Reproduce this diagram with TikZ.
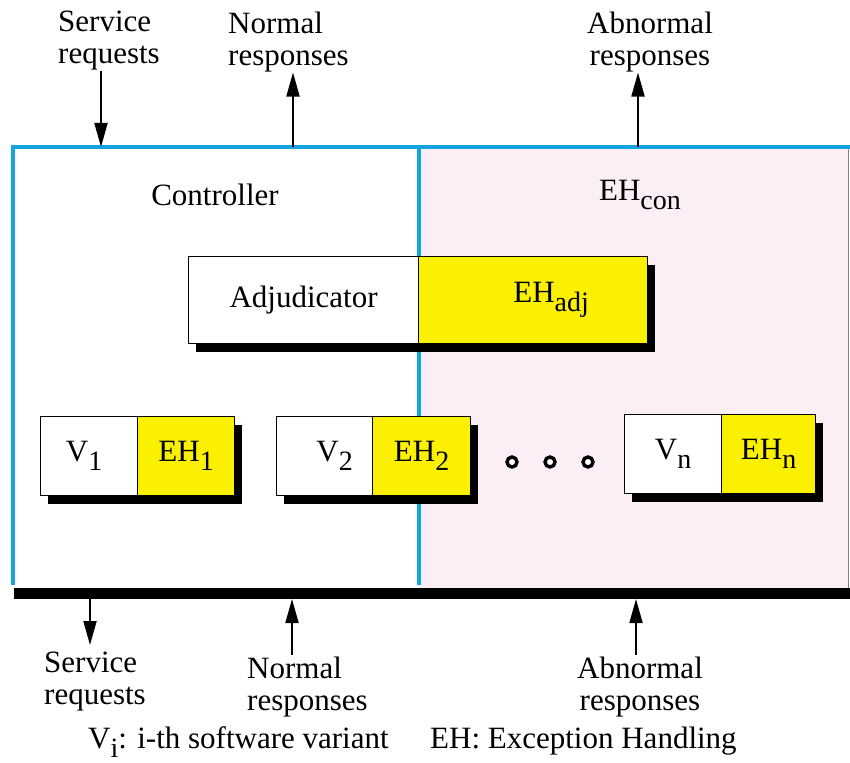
\documentclass[tikz,border=0pt]{standalone}
\usepackage{fontspec}
\setmainfont{Liberation Serif}
\usetikzlibrary{arrows.meta,shadows}
\definecolor{framecyan}{RGB}{20,165,225}
\definecolor{ehpink}{RGB}{252,238,245}
\definecolor{ehyellow}{RGB}{250,240,0}
% lowered index as printed in the figure (nearly full size)
\newcommand{\lowsub}[1]{\raisebox{-0.3em}{\fontsize{28}{28}\selectfont #1}}
\begin{document}
\begin{tikzpicture}[x=1pt,y=-1pt,
  txt/.style={font=\fontsize{31}{32}\selectfont, inner sep=0pt},
  flow/.style={line width=1.8pt, -{Triangle[length=24pt,width=13pt]}},
  cyanline/.style={draw=framecyan, line width=4pt},
  part/.style={draw=black, line width=1.2pt, inner sep=0pt, anchor=north west,
    font=\fontsize{31}{32}\selectfont,
    drop shadow={shadow xshift=7pt, shadow yshift=-8pt, fill=black, opacity=1}},
  vpart/.style={part, fill=white},
  hpart/.style={part, fill=ehyellow},
  ring/.style={draw=black, line width=3.4pt, fill=white, circle, inner sep=0pt, minimum size=10pt}]
\useasboundingbox (0,0) rectangle (850,762);

% frame: controller (white) and exception-handling part (pink)
\fill[ehpink] (419,147) rectangle (848,590);
\draw[gray, line width=1pt] (848,147) -- (848,590);
\fill[black] (14,588) rectangle (850,599);
\draw[cyanline] (11,147) -- (850,147);
\draw[cyanline] (13,147) -- (13,585);
\draw[cyanline] (419,147) -- (419,585);

\node[txt] (ctrl) at (215,195) {Controller};
\node[txt] (ehcon) at (640,195) {EH\lowsub{con}};

% adjudicator with its exception handler
\node[vpart, minimum width=230pt, minimum height=87pt] (adj) at (188,256) {Adjudicator};
\node[hpart, minimum width=229pt, minimum height=87pt] (ehadj) at (418,256) {\hspace*{36pt}EH\lowsub{adj}};

% software variants
\node[vpart, minimum width=97pt, minimum height=79pt] (v1) at (40,416) {V\lowsub{1}\hspace*{10pt}};
\node[hpart, minimum width=97pt, minimum height=79pt] (eh1) at (137,416) {EH\lowsub{1}};
\node[vpart, minimum width=96pt, minimum height=79pt] (v2) at (276,416) {\hspace*{20pt}V\lowsub{2}};
\node[hpart, minimum width=98pt, minimum height=79pt] (eh2) at (372,416) {EH\lowsub{2}};
\node[vpart, minimum width=97pt, minimum height=79pt] (vn) at (624,414) {V\lowsub{n}};
\node[hpart, minimum width=94pt, minimum height=79pt] (ehn) at (721,414) {EH\lowsub{n}};

\node[ring] (d1) at (512,462) {};
\node[ring] (d2) at (550,462) {};
\node[ring] (d3) at (588,462) {};

% interface points on the frame
\coordinate (inTop) at (101,147);
\coordinate (nrmTopPt) at (293,147);
\coordinate (abnTopPt) at (638,147);
\coordinate (inBot) at (90,599);
\coordinate (nrmBotPt) at (292,599);
\coordinate (abnBotPt) at (636,599);

% labels above
\node[txt, align=left, anchor=north west] (svcTop) at (58,11) {Service\\requests};
\node[txt, align=left, anchor=north west] (nrmTop) at (228,12) {Normal\\responses};
\node[txt, align=center, anchor=north] (abnTop) at (650,12) {Abnormal\\responses};

% labels below
\node[txt, align=left, anchor=north west] (svcBot) at (44,652) {Service\\requests};
\node[txt, align=left, anchor=north west] (nrmBot) at (247,657) {Normal\\responses};
\node[txt, align=center, anchor=north] (abnBot) at (640,657) {Abnormal\\responses};

% legend
\node[txt, anchor=base west] (legV) at (88,748) {V\lowsub{i}: i-th software variant};
\node[txt, anchor=base west] (legEH) at (430,748) {EH: Exception Handling};

% requests and responses
\draw[flow] (svcTop.south -| inTop) -- (inTop);
\draw[flow] (nrmTopPt) -- (nrmTop.south -| nrmTopPt);
\draw[flow] (abnTopPt) -- (abnTop.south -| abnTopPt);
\draw[flow] (inBot) -- ([yshift=7pt]svcBot.north -| inBot);
\draw[flow] ([yshift=2pt]nrmBot.north -| nrmBotPt) -- (nrmBotPt);
\draw[flow] ([yshift=2pt]abnBot.north -| abnBotPt) -- (abnBotPt);
\end{tikzpicture}
\end{document}
